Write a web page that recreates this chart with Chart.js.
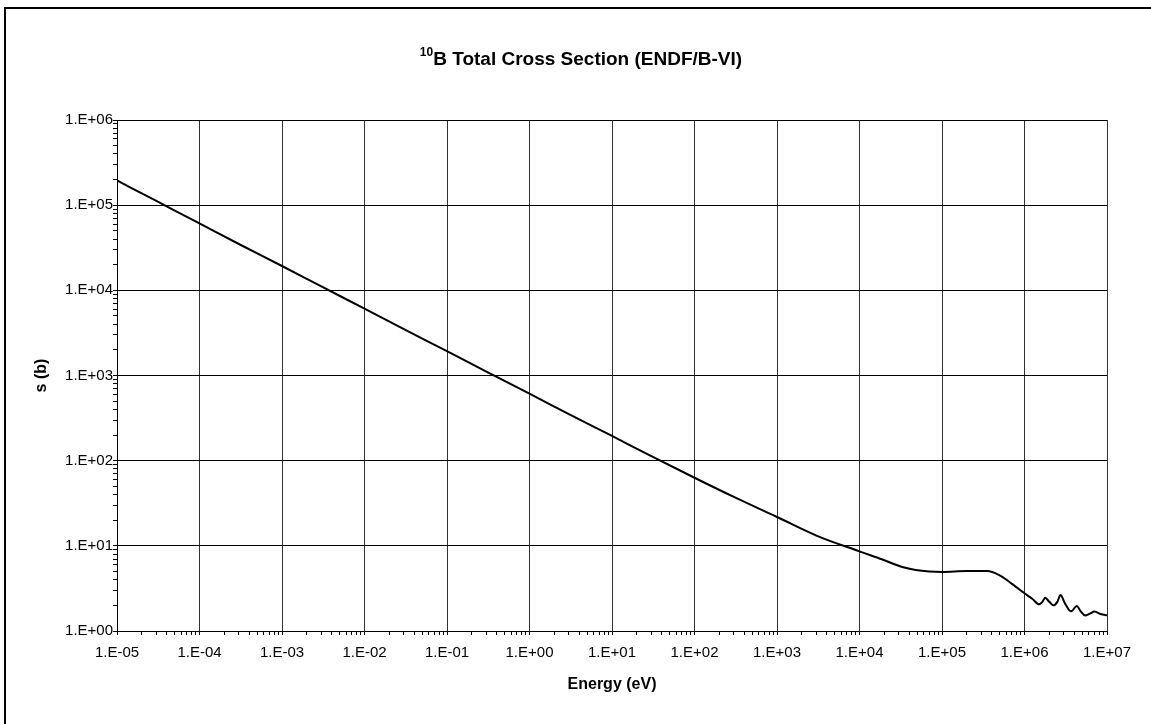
<!DOCTYPE html>
<html>
<head>
<meta charset="utf-8">
<script src="https://cdn.jsdelivr.net/npm/chart.js@4.4.1/dist/chart.umd.min.js"></script>
<style>
  html, body { margin: 0; padding: 0; background: #fff; }
  canvas { display: block; }
</style>
</head>
<body>
<canvas id="c" width="1151" height="724"></canvas>
<script>
// ---- data ----
const energies = [
  1e-5, 3e-5, 1e-4, 3e-4, 1e-3, 3e-3, 1e-2, 3e-2, 1e-1, 3e-1,
  1, 3, 10, 30, 100, 300, 1e3, 3e3, 1e4, 1.9e4,
  3.3e4, 4.8e4, 7e4, 1e5, 2e5, 3.5e5, 5e5, 7.2e5, 1e6, 1.25e6,
  1.5e6, 1.65e6, 1.78e6, 2.0e6, 2.25e6, 2.5e6, 2.73e6, 3.1e6, 3.67e6, 4.3e6,
  4.8e6, 5.43e6, 6.2e6, 7.05e6, 8.5e6, 1e7
];
const sigma = [
  195000, 112000, 61000, 35000, 19300, 11100, 6100, 3500, 1930, 1110,
  612, 352, 195, 113, 63, 37.5, 21.8, 13.2, 8.6, 6.9,
  5.63, 5.19, 4.98, 4.92, 5.05, 5.05, 4.5, 3.53, 2.77, 2.38,
  2.06, 2.2, 2.46, 2.2, 2.0, 2.2, 2.64, 2.1, 1.70, 1.96,
  1.7, 1.52, 1.6, 1.69, 1.57, 1.53
];
const xTickLabels = ['1.E-05','1.E-04','1.E-03','1.E-02','1.E-01','1.E+00','1.E+01','1.E+02','1.E+03','1.E+04','1.E+05','1.E+06','1.E+07'];
const yTickLabels = ['1.E+00','1.E+01','1.E+02','1.E+03','1.E+04','1.E+05','1.E+06'];
const titleSup = '10';
const titleMain = 'B Total Cross Section (ENDF/B-VI)';
const xTitle = 'Energy (eV)';
const yTitle = 's (b)';
const xMinExp = -5, xMaxExp = 7;
const yMinExp = 0, yMaxExp = 6;

const FONT = '"Liberation Sans", Arial, sans-serif';

function logTicks(lo, hi) {
  const t = [];
  for (let e = lo; e <= hi; e++) {
    t.push({ value: Math.pow(10, e), major: true });
    if (e < hi) for (let m = 2; m <= 9; m++) t.push({ value: m * Math.pow(10, e), major: false });
  }
  return t;
}

const framePlugin = {
  id: 'frame',
  beforeDraw(chart) {
    const ctx = chart.ctx;
    ctx.save();
    ctx.fillStyle = '#fff';
    ctx.fillRect(0, 0, chart.width, chart.height);
    ctx.restore();
  },
  afterDraw(chart) {
    const ctx = chart.ctx;
    ctx.save();
    ctx.fillStyle = '#000';
    ctx.fillRect(4, 7, 2, chart.height - 7);
    ctx.fillRect(4, 7, chart.width - 4, 2);
    // title with superscript
    ctx.textBaseline = 'alphabetic';
    ctx.textAlign = 'left';
    ctx.font = 'bold 12px ' + FONT;
    const supW = ctx.measureText(titleSup).width;
    ctx.font = 'bold 19px ' + FONT;
    const mainW = ctx.measureText(titleMain).width;
    const x0 = 581 - (supW + mainW) / 2;
    ctx.font = 'bold 12px ' + FONT;
    ctx.fillText(titleSup, x0, 56);
    ctx.font = 'bold 19px ' + FONT;
    ctx.fillText(titleMain, x0 + supW, 65);
    ctx.restore();
  }
};

const points = energies.map((e, i) => ({ x: e, y: sigma[i] }));

new Chart(document.getElementById('c'), {
  type: 'line',
  data: {
    datasets: [{
      data: points,
      borderColor: '#000',
      borderWidth: 2,
      pointRadius: 0,
      tension: 0.3,
      cubicInterpolationMode: 'monotone',
      fill: false
    }]
  },
  options: {
    responsive: false,
    animation: false,
    parsing: false,
    layout: { padding: { top: 120, right: 44, left: 0, bottom: 0 } },
    plugins: { legend: { display: false }, tooltip: { enabled: false }, title: { display: false } },
    scales: {
      x: {
        type: 'logarithmic',
        min: Math.pow(10, xMinExp),
        max: Math.pow(10, xMaxExp),
        afterBuildTicks(scale) { scale.ticks = logTicks(xMinExp, xMaxExp); },
        afterFit(scale) { scale.height = 93; },
        border: { display: true, color: '#000', width: 1 },
        grid: {
          color: (c) => (c.tick && c.tick.major) ? '#333' : 'rgba(0,0,0,0)',
          tickColor: '#000',
          lineWidth: 1,
          tickLength: 4,
          drawTicks: true
        },
        ticks: {
          autoSkip: false,
          maxRotation: 0,
          minRotation: 0,
          padding: 9,
          color: '#000',
          font: { family: FONT, size: 15 },
          callback: function (v, i, ticks) {
            const t = ticks[i];
            if (!t.major) return '';
            const e = Math.round(Math.log10(t.value));
            return xTickLabels[e - xMinExp];
          }
        },
        title: {
          display: true,
          text: xTitle,
          color: '#000',
          font: { family: FONT, size: 16, weight: 'bold' },
          padding: { top: 0, bottom: 30 }
        }
      },
      y: {
        type: 'logarithmic',
        min: Math.pow(10, yMinExp),
        max: Math.pow(10, yMaxExp),
        afterBuildTicks(scale) { scale.ticks = logTicks(yMinExp, yMaxExp); },
        afterFit(scale) { scale.width = 117; },
        border: { display: true, color: '#000', width: 1 },
        grid: {
          color: (c) => (c.tick && c.tick.major) ? '#000' : 'rgba(0,0,0,0)',
          tickColor: '#000',
          lineWidth: 1,
          tickLength: 4,
          drawTicks: true
        },
        ticks: {
          autoSkip: false,
          padding: 0,
          color: '#000',
          font: { family: FONT, size: 15 },
          callback: function (v, i, ticks) {
            const t = ticks[i];
            if (!t.major) return '';
            const e = Math.round(Math.log10(t.value));
            return yTickLabels[e - yMinExp];
          }
        },
        title: {
          display: true,
          text: yTitle,
          color: '#000',
          font: { family: FONT, size: 16, weight: 'bold' },
          padding: { top: 32, bottom: 0 }
        }
      }
    }
  },
  plugins: [framePlugin]
});
</script>
</body>
</html>
